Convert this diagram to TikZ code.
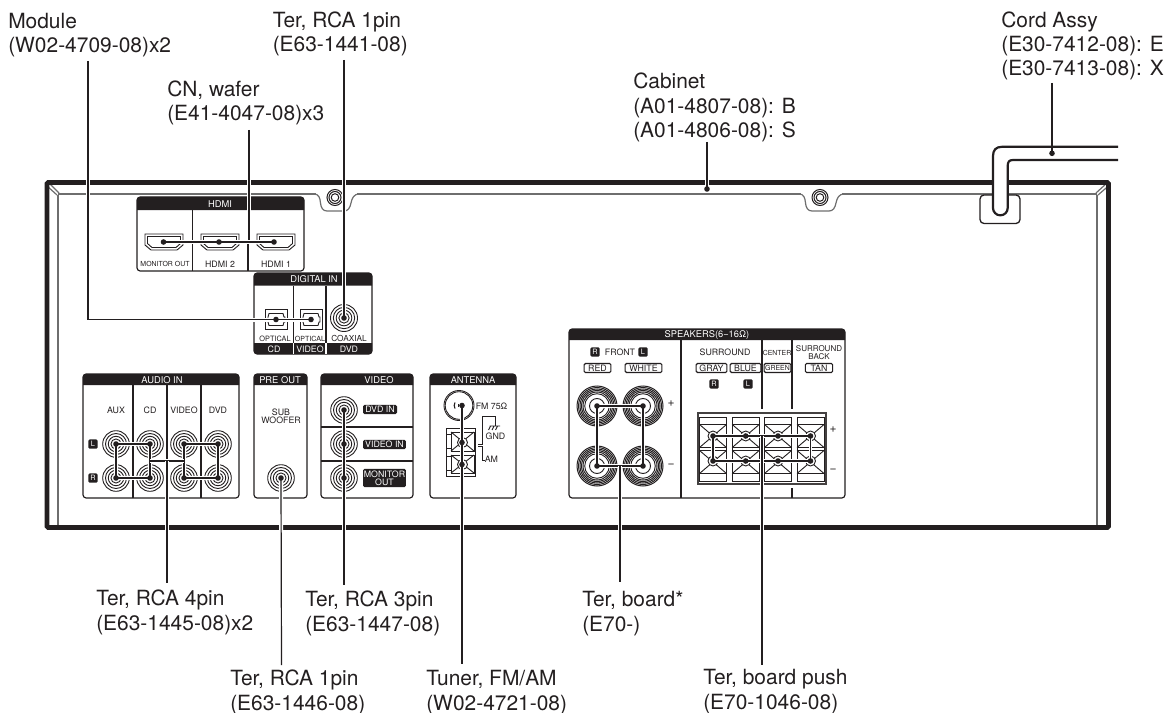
\documentclass[tikz,border=0pt]{standalone}
\usepackage{fontspec}
\setmainfont{TeX Gyre Heros}
\pgfdeclarelayer{top}
\pgfsetlayers{main,top}
\definecolor{ink}{HTML}{231F20}
\definecolor{soft}{HTML}{6E6E6E}
\tikzset{
  lw/.style={line width=#1*0.75pt},
  callout/.style={font=\fontsize{15.7pt}{18.2pt}\selectfont,text=ink,anchor=base west,align=left,inner sep=0pt},
  tag/.style={font=\fontsize{#1}{#1}\selectfont,text=ink,inner sep=0pt,align=center},
  tagw/.style={font=\fontsize{#1}{#1}\selectfont,text=white,inner sep=0pt,align=center},
  pin/.style={circle,fill=ink,inner sep=0pt,minimum size=4.2pt},
  wire/.style={draw=ink,lw=1.4,preaction={draw=white,lw=3.6}},
  leader/.style={draw=ink,lw=1.2,preaction={draw=white,lw=4}},
  fine/.style={draw=ink,lw=0.9},
  pan/.style={draw=ink,lw=1.2,rounded corners=2.4pt},
  div/.style={draw=ink,lw=1.2},
  inner/.style={draw=soft,lw=1.2},
  capsule/.style={draw=ink,lw=1.1,rounded corners=1pt,inner sep=0pt},
}
\newcommand{\pinn}[3]{\begin{pgfonlayer}{top}\node[pin] (#1) at (#2,#3) {};\end{pgfonlayer}}
\newcommand{\rcajack}[4][13.3]{%
  \foreach \rr in {1,0.79,0.58,0.38}{\draw[fine,fill=white] (#3,#4) circle [radius=#1*\rr];}
  \pinn{#2}{#3}{#4}}
\newcommand{\post}[3]{%
  \draw[draw=ink,lw=1,fill=white] (#2,#3) circle [radius=20];
  \foreach \rr in {18.5,17,15.5,14}{\draw[draw=ink,lw=1] (#2,#3) circle [radius=\rr];}
  \draw[fine] (#2,#3) circle [radius=12.3];
  \draw[fine] (#2,#3) circle [radius=7.5];
  \pinn{#1}{#2}{#3}}
\newcommand{\panel}[8]{% name x1 y1 x2 y2 yh title tx
  \draw[pan,fill=white] (#2,#3) rectangle (#4,#5);
  \fill[ink] (#2,#6) [rounded corners=2.4pt]-- (#2,#3) -- (#4,#3) [sharp corners]-- (#4,#6) -- cycle;
  \node[tagw=7pt] (#1) at (#8,{(#3+#6)/2+0.3}) {#7};}
\newcommand{\hdmi}[2]{%
  \begin{scope}[shift={(#1,#2)}]
    \draw[fine] (-19,-8) -- (19,-8) -- (19,3) -- (13,8) -- (-13,8) -- (-19,3) -- cycle;
    \draw[fine] (-16.5,-5.5) -- (16.5,-5.5) -- (16.5,1.5) -- (12,5.5) -- (-12,5.5) -- (-16.5,1.5) -- cycle;
  \end{scope}}
\newcommand{\optic}[2]{%
  \begin{scope}[shift={(#1,#2)}]
    \draw[fine] (-11,-10) rectangle (11,10);
    \draw[fine] (-7,-6) -- (7,-6) -- (8,-2.5) -- (9,-2.5) -- (9,2.5) -- (8,2.5) -- (7,6) -- (-7,6) -- (-8,2.5) -- (-8,-2.5) -- cycle;
  \end{scope}}
\newcommand{\xcell}[5]{% cx ytop ybot halfw ringy
  \draw[fine] (#1-#4,#2) -- (#1+#4,#3) (#1-#4,#3) -- (#1+#4,#2);
  \draw[fine] (#1-#4,#2) rectangle (#1+#4,#3);
  \draw[fine,fill=white] (#1,#5) circle [radius=5];}
\newcommand{\notch}[1]{%
  \begin{scope}[shift={(#1,0)}]
    \fill[white] (-19,192) rectangle (22,210);
    \draw[inner] (-21,194) .. controls (-16,194) and (-15,198) .. (-14.5,203) .. controls (-14,208) and (-12,211) .. (-8,211) -- (9,211) .. controls (13,211) and (15,208) .. (16,203) .. controls (17,198) and (19,194) .. (24,194);
    \foreach \rr in {8,6,3.8}{\draw[draw=ink,lw=1] (0,197.5) circle [radius=\rr];}
  \end{scope}}
\begin{document}
\begin{tikzpicture}[x=0.75pt,y=-0.75pt]
\useasboundingbox (0,0) rectangle (1167,713);
% cabinet inner lines
\draw[inner] (58,195) -- (58,526);
\draw[inner] (1097,195) -- (1097,526);
\draw[inner] (58,194) -- (1097,194);
\draw[inner] (49,183) -- (59,193) (46.5,185.5) -- (57,195);
\draw[inner] (1107,183) -- (1096,193) (1109,185.5) -- (1098,195);
\notch{335}
\notch{820}
% frame
\draw[draw=ink,lw=4.8,rounded corners=1pt] (47,182.5) rectangle (1108.5,527.5);
% grommet and cord
\draw[draw=ink,lw=1.3,fill=white,rounded corners=3pt] (980,195) rectangle (1020,223.5);
\fill[white] (993,153) -- (1000,147) -- (1118,147) -- (1118,160) -- (1014,160) -- (1007.7,166) -- (1007.7,208) arc (0:180:7.35 and -7.35) -- cycle;
\draw[draw=ink,lw=2.2] (1118,146.8) -- (1002,146.8) .. controls (996,146.8) and (993,150) .. (993,156) -- (993,208) arc (180:360:7.35 and -7.35) -- (1007.7,166) .. controls (1007.7,162) and (1009,160) .. (1013,160) -- (1118,160);

% HDMI
\panel{thdmi}{137}{197}{304}{271}{210}{HDMI}{220}
\draw[div] (192.5,210) -- (192.5,271) (248,210) -- (248,271);
\hdmi{164}{242}\hdmi{220}{242}\hdmi{276}{242}
\node[tag=5.2pt] (lmon) at (165,264) {MONITOR OUT};
\node[tag=6.6pt] (lh2) at (220,264) {HDMI  2};
\node[tag=6.6pt] (lh1) at (276,264) {HDMI 1};
\pinn{ha}{163.5}{242}\pinn{hb}{219}{242}\pinn{hc}{274}{242}

% Digital in
\panel{tdig}{254}{273}{372}{354}{285.5}{DIGITAL IN}{314}
\fill[ink] (254,343) -- (372,343) [rounded corners=2.4pt]-- (372,354) -- (254,354) [sharp corners]-- cycle;
\draw[div] (293.5,285.5) -- (293.5,343) (326,285.5) -- (326,343);
\draw[draw=white,lw=1.2] (293.5,343) -- (293.5,354) (326,343) -- (326,354);
\optic{276}{319.5}\optic{311}{319.5}
\rcajack[13.5]{co}{344}{318}
\node[tag=5.5pt] (lo1) at (275,338.5) {OPTICAL};
\node[tag=5.3pt] (lo2) at (310,338.5) {OPTICAL};
\node[tag=6.2pt] (lo3) at (349,338.5) {COAXIAL};
\node[tagw=6.6pt] (lf1) at (274,349) {CD};
\node[tagw=6.6pt] (lf2) at (310,349) {VIDEO};
\node[tagw=6.6pt] (lf3) at (349,349) {DVD};
\pinn{oa}{276}{319.5}\pinn{ob}{311}{319.5}

% Audio in
\panel{taud}{83}{374}{239}{498}{385}{AUDIO IN}{162}
\draw[div] (133,385) -- (133,498) (167,385) -- (167,498) (201,385) -- (201,498);
\node[tag=6.6pt] (aa) at (116,410) {AUX};
\node[tag=6.6pt] (ab) at (150,410) {CD};
\node[tag=6.6pt] (ac) at (184,410) {VIDEO};
\node[tag=6.6pt] (ad) at (218,410) {DVD};
\node[tagw=5.5pt,fill=ink,rounded corners=1pt,minimum size=7pt] (bl) at (93,444) {L};
\node[tagw=5.5pt,fill=ink,rounded corners=1pt,minimum size=7pt] (br) at (93,478) {R};
\rcajack{j1}{116}{444}\rcajack{j2}{150}{444}\rcajack{j3}{184}{444}\rcajack{j4}{218}{444}
\rcajack{j5}{116}{478}\rcajack{j6}{150}{478}\rcajack{j7}{184}{478}\rcajack{j8}{218}{478}
\draw[wire] (j1.center) -- (j2.center) -- (j6.center) -- (j5.center) -- cycle;
\draw[wire] (j3.center) -- (j4.center) -- (j8.center) -- (j7.center) -- cycle;
\coordinate (jl) at (150,461);\coordinate (jr) at (184,461);\coordinate (jm) at (167,461);
\draw[wire] (jl) -- (jr);

% Pre out
\panel{tpre}{254}{374}{307}{498}{385}{PRE OUT}{280}
\node[tag=6.6pt] (lsub) at (281,416) {SUB\\[-0.5pt]WOOFER};
\rcajack{sw}{281}{478}

% Video
\panel{tvid}{321}{374}{413}{498}{385}{VIDEO}{379}
\draw[div] (321,427) -- (413,427) (321,461) -- (413,461);
\rcajack{v1}{344}{410}\rcajack{v2}{344}{444}\rcajack{v3}{344}{478}
\node[tagw=6.6pt,fill=ink,rounded corners=1pt,minimum width=25.5pt,minimum height=6.8pt] (bv1) at (380,409.5) {DVD IN};
\node[tagw=6.6pt,fill=ink,rounded corners=1pt,minimum width=32pt,minimum height=6.8pt] (bv2) at (384.5,444.5) {VIDEO IN};
\node[tagw=6.6pt,fill=ink,rounded corners=1pt,minimum width=32pt,minimum height=13.6pt] (bv3) at (384.5,478) {MONITOR\\[-0.3pt]OUT};

% Antenna
\panel{tant}{430}{374}{516}{498}{385}{ANTENNA}{473}
\draw[fine,fill=white] (459,405.5) circle [radius=15];
\draw[fine] (459,405.5) circle [radius=13.8];
\draw[draw=ink,lw=1.1] (455,408.5) arc (150:210:6);
\draw[draw=ink,lw=1.1] (458.6,407) arc (150:210:3);
\pinn{fm}{462}{405.5}
\node[tag=6.6pt,anchor=west] (lfm) at (475.5,406) {FM 75Ω};
\draw[fine] (446,428) rectangle (475.5,476);
\draw[fine] (446,434) -- (451,434) (446,448) -- (451,448) (446,456) -- (451,456) (446,470) -- (451,470);
\xcell{462.5}{432}{451}{11.5}{442.5}
\xcell{462.5}{455}{473}{11.5}{464.5}
\pinn{an1}{462}{442.5}\pinn{an2}{462}{464.5}
\coordinate (gs) at (478,444);\coordinate (as) at (478,446.5);
\draw[fine] (gs) -| (482,416) -| (495,426);
\draw[fine] (as) -| (482,460.5) -- (485,460.5);
\draw[fine] (489.5,426) -- (500,426) (490.5,426) -- (488.5,430) (494,426) -- (492,430) (497.5,426) -- (495.5,430);
\node[tag=6.6pt] (lgnd) at (495.5,436.5) {GND};
\node[tag=6.6pt,anchor=west] (lam) at (484.5,459) {AM};

% Speakers
\panel{tspk}{569}{329}{845}{498}{340}{SPEAKERS(6−16Ω)}{707}
\draw[div] (681,340) -- (681,498);
\draw[div] (762,340) -- (762,409);
\draw[div] (792,340) -- (792,409) (792,488) -- (792,498);
\node[tagw=5.5pt,fill=ink,rounded corners=1pt,minimum size=7pt] (sr) at (595,352) {R};
\node[tag=6.6pt] (sfr) at (620,352) {FRONT};
\node[tagw=5.5pt,fill=ink,rounded corners=1pt,minimum size=7pt] (sl) at (643,352) {L};
\node[tag=6.6pt,capsule,minimum width=20pt,minimum height=6.8pt] (bred) at (597.5,368) {RED};
\node[tag=6.6pt,capsule,minimum width=27.5pt,minimum height=6.8pt] (bwh) at (643.5,368) {WHITE};
\node[tag=6.6pt] (ssur) at (725,352) {SURROUND};
\node[tag=6.6pt,capsule,minimum width=23pt,minimum height=6.8pt] (bgr) at (711.5,368) {GRAY};
\node[tag=6.6pt,capsule,minimum width=23pt,minimum height=6.8pt] (bbl) at (745.5,368) {BLUE};
\node[tagw=5.5pt,fill=ink,rounded corners=1pt,minimum size=7pt] (s2r) at (714,384) {R};
\node[tagw=5.5pt,fill=ink,rounded corners=1pt,minimum size=7pt] (s2l) at (748,384) {L};
\node[tag=5.2pt] (scen) at (777,352.5) {CENTER};
\node[tag=5.2pt,capsule,minimum width=20pt,minimum height=6.8pt] (bgn) at (777.5,368) {GREEN};
\node[tag=6pt] (sbk) at (819,352.5) {SURROUND\\[-0.5pt]BACK};
\node[tag=6.6pt,capsule,minimum width=20.5pt,minimum height=6.8pt] (btn) at (819,368) {TAN};
\post{p1}{597}{406}\post{p2}{643}{406}\post{p3}{597}{466}\post{p4}{643}{466}
\node[tag=9pt] (spa) at (671,404) {+};
\node[tag=9pt] (spb) at (671,466) {−};
\draw[wire] (p1.center) -- (p2.center) -- (p4.center) -- (p3.center) -- cycle;
% push terminals
\draw[draw=ink!85,lw=1.1,fill=white] (698,413) rectangle (826,484);
\foreach \cx/\ci in {713/a,745.7/b,778/c,810.5/d}{
  \draw[fine] (\cx-13.5,417) rectangle (\cx+13.5,481);
  \xcell{\cx}{424.5}{447.5}{13.5}{436}
  \xcell{\cx}{450.5}{473.5}{13.5}{461}
  \pinn{t\ci 1}{\cx}{436}
  \pinn{t\ci 2}{\cx}{461}
}
\draw[wire] (ta1.center) -- (td1.center) -- (td2.center) -- (ta2.center) -- cycle;
\node[tag=9pt] (spc) at (833,430) {+};
\node[tag=9pt] (spd) at (833,471) {−};

% cabinet dots
\pinn{cab}{707}{189}
\pinn{crd}{1052}{153.3}

% leaders
\coordinate (e1) at (88,61);\coordinate (e1c) at (88,319.5);
\draw[leader] (e1) -- (e1c) -- (oa.center) -- (ob.center);
\coordinate (e2) at (249,130);\coordinate (e2c) at (249,242);
\draw[leader] (e2) -- (e2c);
\draw[wire] (ha.center) -- (hc.center);
\coordinate (e3) at (344,60);
\draw[leader] (e3) -- (co.center);
\coordinate (e4) at (707,142);
\draw[leader] (e4) -- (cab.center);
\coordinate (e5) at (1052,83);
\draw[draw=ink,lw=1.2] (e5) -- (crd.center);
\coordinate (e6) at (167,583);
\draw[leader] (jm) -- (e6);
\coordinate (e7) at (281.5,665);
\draw[leader] (sw.center) -- (e7);
\coordinate (e8) at (344,585);
\draw[leader] (v1.center) -- (e8);
\coordinate (e9) at (462,664);
\draw[leader] (fm.center) -- (e9);
\coordinate (e10) at (620,582);
\coordinate (p34) at (620,466);
\draw[leader] (p34) -- (e10);
\coordinate (e11) at (762,665);
\coordinate (t12) at (762,436);
\draw[leader] (t12) -- (e11);

% callouts
\node[callout] (c1) at (8,53) {Module\\(W02-4709-08)x2};
\node[callout] (c2) at (272.5,52) {Ter, RCA 1pin\\(E63-1441-08)};
\node[callout] (c3) at (167,121) {CN, wafer\\(E41-4047-08)x3};
\node[callout] (c4) at (633,137.5) {Cabinet\\(A01-4807-08): B\\(A01-4806-08): S};
\node[callout] (c5) at (1001,76) {Cord Assy\\(E30-7412-08): E\\(E30-7413-08): X};
\node[callout] (c6) at (96,630) {Ter, RCA 4pin\\(E63-1445-08)x2};
\node[callout] (c7) at (305,631) {Ter, RCA 3pin\\(E63-1447-08)};
\node[callout] (c8) at (230,710) {Ter, RCA 1pin\\(E63-1446-08)};
\node[callout] (c9) at (426,710) {Tuner, FM/AM\\(W02-4721-08)};
\node[callout] (c10) at (582,631) {Ter, board*\\(E70-)};
\node[callout] (c11) at (703,709) {Ter, board push\\(E70-1046-08)};
\end{tikzpicture}
\end{document}
